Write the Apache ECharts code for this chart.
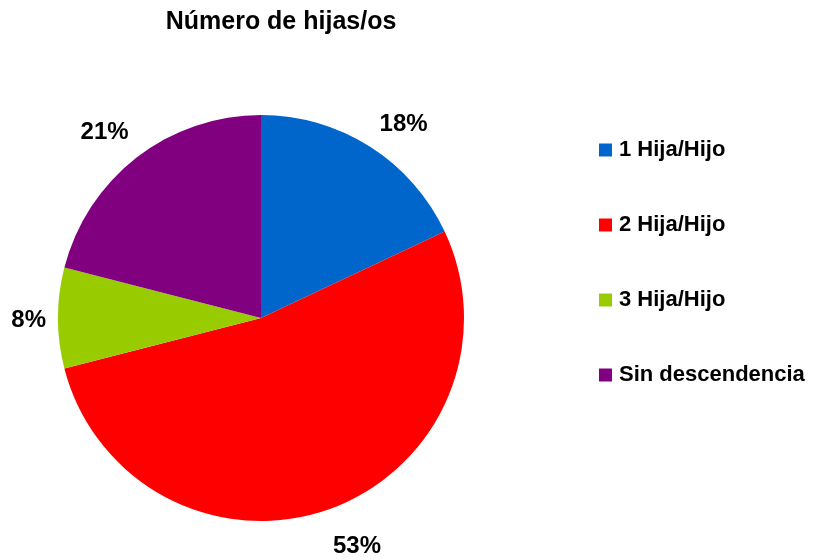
<!DOCTYPE html>
<html><head><meta charset="utf-8">
<script src="https://cdn.jsdelivr.net/npm/echarts@6/dist/echarts.min.js"></script>
<style>html,body{margin:0;padding:0;background:#fff}#c{width:815px;height:560px}</style>
</head><body><div id="c"></div>
<script>
const categories = ["1 Hija/Hijo", "2 Hija/Hijo", "3 Hija/Hijo", "Sin descendencia"];
const values = [18, 53, 8, 21];
const colors = ["#0066CC", "#FF0000", "#99CC00", "#800080"];
const titleText = "Número de hijas/os";
// label placement styling
const labelLens = [22, 36, 12, 26];
const labelNudge = [[-7, -4], [-14, 4], [5, 2], [13, -5]];

const chart = echarts.init(document.getElementById('c'), null, {renderer: 'canvas'});
const font = '"Liberation Sans", Arial, sans-serif';
chart.setOption({
  animation: false,
  backgroundColor: '#ffffff',
  title: {
    text: titleText, left: 281, top: 10, textAlign: 'center', padding: 0,
    textStyle: {fontFamily: font, fontWeight: 'bold', fontSize: 25, color: '#000'}
  },
  legend: {
    orient: 'vertical', left: 599, top: 139, padding: 0,
    itemWidth: 13, itemHeight: 13, itemGap: 53,
    icon: 'rect',
    textStyle: {fontFamily: font, fontWeight: 'bold', fontSize: 22, color: '#000', padding: [0,0,0,2]},
    data: categories
  },
  series: [{
    type: 'pie',
    center: [261, 318],
    radius: 203,
    startAngle: 90,
    clockwise: true,
    silent: true,
    data: categories.map((c, i) => ({
      name: c, value: values[i], itemStyle: {color: colors[i]},
      labelLine: {length: labelLens[i], length2: 0}
    })),
    label: {
      show: true, position: 'outside', overflow: 'none',
      formatter: p => Math.round(p.percent) + '%',
      fontFamily: font, fontWeight: 'bold', fontSize: 24, color: '#000'
    },
    labelLine: {show: false, length: 20, length2: 0},
    labelLayout: p => ({dx: labelNudge[p.dataIndex][0], dy: labelNudge[p.dataIndex][1]})
  }]
});
</script></body></html>
